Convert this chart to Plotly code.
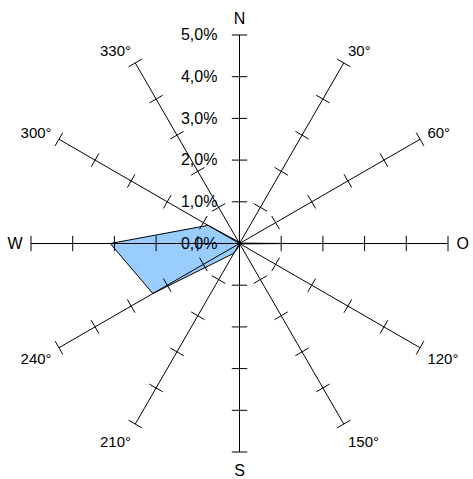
import plotly.graph_objects as go

directions = [0, 30, 60, 90, 120, 150, 180, 210, 240, 270, 300, 330]
direction_labels = ["N", "30°", "60°", "O", "120°", "150°", "S", "210°", "240°", "W", "300°", "330°"]
frequency_pct = [0.0, 0.0, 0.02, 1.2, 0.02, 0.0, 0.05, 0.27, 2.4, 3.1, 0.87, 0.05]
radial_ticks = [0, 1, 2, 3, 4, 5]
radial_tick_labels = ["0,0%", "1,0%", "2,0%", "3,0%", "4,0%", "5,0%"]

FONT = "Liberation Sans, Arial, sans-serif"

# cardinal letters slightly larger than degree labels
styled_labels = [
    f'<span style="font-size:16px">{t}</span>' if t in ("N", "O", "S", "W") else t
    for t in direction_labels
]

fig = go.Figure()

# data polygon
fig.add_trace(go.Scatterpolar(
    r=frequency_pct + [frequency_pct[0]],
    theta=directions + [directions[0]],
    mode="lines",
    fill="toself",
    fillcolor="#99ccff",
    line=dict(color="black", width=1),
    hoverinfo="skip",
    showlegend=False,
))

# spokes
for d in directions:
    fig.add_trace(go.Scatterpolar(
        r=[0, radial_ticks[-1]],
        theta=[d, d],
        mode="lines",
        line=dict(color="black", width=1),
        hoverinfo="skip",
        showlegend=False,
    ))

# tick marks on each spoke
tr, tt, ta = [], [], []
for d in directions:
    for v in radial_ticks[1:]:
        tr.append(v)
        tt.append(d)
        ta.append(d)
fig.add_trace(go.Scatterpolar(
    r=tr,
    theta=tt,
    mode="markers",
    marker=dict(symbol="line-ew", size=11, angle=ta,
                line=dict(color="black", width=1), color="black"),
    hoverinfo="skip",
    showlegend=False,
))

fig.update_layout(
    width=473,
    height=479,
    margin=dict(l=31, r=25, t=35, b=27),
    paper_bgcolor="white",
    plot_bgcolor="white",
    showlegend=False,
    font=dict(family=FONT, color="black"),
    polar=dict(
        bgcolor="white",
        domain=dict(x=[0, 1], y=[0, 1]),
        angularaxis=dict(
            rotation=90,
            direction="clockwise",
            tickmode="array",
            tickvals=directions,
            ticktext=styled_labels,
            showgrid=False,
            showline=False,
            ticks="outside",
            ticklen=5,
            tickcolor="rgba(0,0,0,0)",
            tickfont=dict(size=15, family=FONT, color="black"),
        ),
        radialaxis=dict(
            range=[0, radial_ticks[-1]],
            tickmode="array",
            tickvals=radial_ticks,
            ticktext=radial_tick_labels,
            angle=90,
            tickangle=90,
            side="counterclockwise",
            showgrid=False,
            showline=False,
            ticks="outside",
            ticklen=16,
            tickcolor="rgba(0,0,0,0)",
            tickfont=dict(size=16, family=FONT, color="black"),
        ),
    ),
)

fig.write_html(
    "out.html",
    config={"displayModeBar": False},
    post_script="document.body.style.margin='0px';document.body.style.overflow='hidden';",
)
